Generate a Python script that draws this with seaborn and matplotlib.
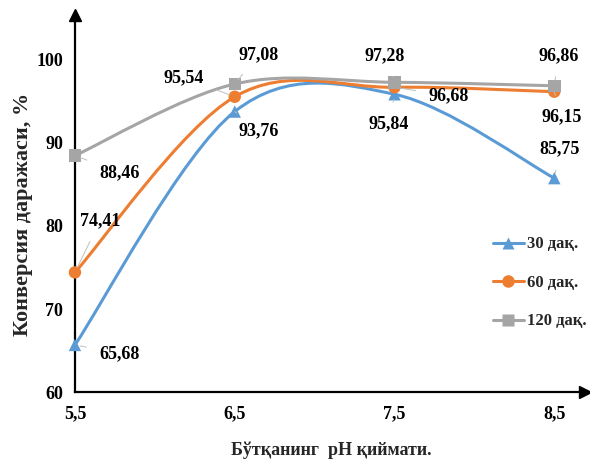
import matplotlib
matplotlib.use("Agg")
import matplotlib.pyplot as plt
from matplotlib.path import Path
from matplotlib.patches import PathPatch
from matplotlib.lines import Line2D
import seaborn as sns
import pandas as pd

# pH values of the mash and conversion degree for each holding time
ph_values = [5.5, 6.5, 7.5, 8.5]
tick_labels = ["5,5", "6,5", "7,5", "8,5"]
conv_30 = [65.68, 93.76, 95.84, 85.75]
conv_60 = [74.41, 95.54, 96.68, 96.15]
conv_120 = [88.46, 97.08, 97.28, 96.86]
series_names = ["30 дақ.", "60 дақ.", "120 дақ."]

colors = {"30 дақ.": "#5B9BD5", "60 дақ.": "#ED7D31", "120 дақ.": "#A5A5A5"}
markers = {"30 дақ.": "^", "60 дақ.": "o", "120 дақ.": "s"}

df = pd.DataFrame({
    "pH": ph_values * 3,
    "conv": conv_30 + conv_60 + conv_120,
    "series": [n for n in series_names for _ in ph_values],
})

sns.set_theme(style="white")
plt.rcParams["font.family"] = ["Liberation Serif", "DejaVu Serif"]
plt.rcParams["font.weight"] = "bold"

fig = plt.figure(figsize=(5.9, 4.63), dpi=100)
ax = fig.add_axes([0.127, 0.153, 0.864, 0.815])
ax.set_xlim(5.5, 8.69)
ax.set_ylim(60, 105.4)


def smooth_path(xs, ys):
    """Cardinal (Catmull-Rom) Bezier path through the points, like office-style smoothed lines."""
    pts = list(zip(xs, ys))
    ext = [pts[0]] + pts + [pts[-1]]
    verts = [pts[0]]
    codes = [Path.MOVETO]
    for i in range(1, len(ext) - 2):
        p0, p1, p2, p3 = ext[i - 1], ext[i], ext[i + 1], ext[i + 2]
        c1 = (p1[0] + (p2[0] - p0[0]) / 6, p1[1] + (p2[1] - p0[1]) / 6)
        c2 = (p2[0] - (p3[0] - p1[0]) / 6, p2[1] - (p3[1] - p1[1]) / 6)
        verts += [c1, c2, p2]
        codes += [Path.CURVE4] * 3
    return Path(verts, codes)


for name in series_names:
    sub = df[df["series"] == name]
    patch = PathPatch(smooth_path(sub["pH"].tolist(), sub["conv"].tolist()),
                      facecolor="none", edgecolor=colors[name], lw=2.2,
                      zorder=3, clip_on=False)
    ax.add_patch(patch)

sns.scatterplot(data=df, x="pH", y="conv", hue="series", style="series",
                palette=colors, markers=markers, s=80, edgecolor="none",
                legend=False, ax=ax, zorder=4, clip_on=False)

# data labels: offset (points) of each label from its marker
label_offsets = {
    "30 дақ.": [(32, -6), (17, -14), (-4, -21), (4, 21)],
    "60 дақ.": [(18, 37), (-37, 14), (39, -6), (5, -18)],
    "120 дақ.": [(32, -12), (17, 21), (-7, 19), (3, 22)],
}
for name, vals in zip(series_names, [conv_30, conv_60, conv_120]):
    for x, y, off in zip(ph_values, vals, label_offsets[name]):
        txt = f"{y:.2f}".replace(".", ",")
        ax.annotate(txt, xy=(x, y), xytext=off, textcoords="offset points",
                    ha="center", va="center", fontsize=13, fontweight="bold",
                    color="black", zorder=5,
                    arrowprops=dict(arrowstyle="-", color="#BFBFBF", lw=0.7,
                                    shrinkA=7, shrinkB=4))

# axes styling: arrow-headed left and bottom axes
for side in ["top", "right"]:
    ax.spines[side].set_visible(False)
for side in ["left", "bottom"]:
    ax.spines[side].set_linewidth(1.6)
    ax.spines[side].set_color("black")
ax.plot(1, 0, ">", color="black", ms=8, transform=ax.transAxes, clip_on=False)
ax.plot(0, 1, "^", color="black", ms=8, transform=ax.transAxes, clip_on=False)

ax.set_xticks(ph_values)
ax.set_xticklabels(tick_labels)
ax.set_yticks([60, 70, 80, 90, 100])
ax.tick_params(axis="both", direction="inout", length=9, width=1.5,
               labelsize=13, colors="black", pad=4)
ax.tick_params(axis="x", pad=5)
for lab in ax.get_xticklabels() + ax.get_yticklabels():
    lab.set_fontweight("bold")

ax.set_xlabel("Бўтқанинг  pH қиймати.", fontsize=13, fontweight="bold")
ax.xaxis.set_label_coords(0.502, -0.154)
ax.xaxis.label.set_va("center")
ax.set_ylabel("Конверсия даражаси, %", fontsize=16, fontweight="bold")
ax.yaxis.set_label_coords(-0.102, 0.47)
ax.yaxis.label.set_va("center")

handles = [Line2D([], [], color=colors[n], marker=markers[n], lw=2.2, ms=9,
                  markeredgecolor="none") for n in series_names]
fig.legend(handles, series_names, loc="center left", bbox_to_anchor=(0.835, 0.389),
           frameon=False, handlelength=1.9, handletextpad=0.15,
           labelspacing=1.35, borderaxespad=0, borderpad=0,
           prop={"weight": "bold", "size": 12})

fig.savefig("out.png", dpi=100)
